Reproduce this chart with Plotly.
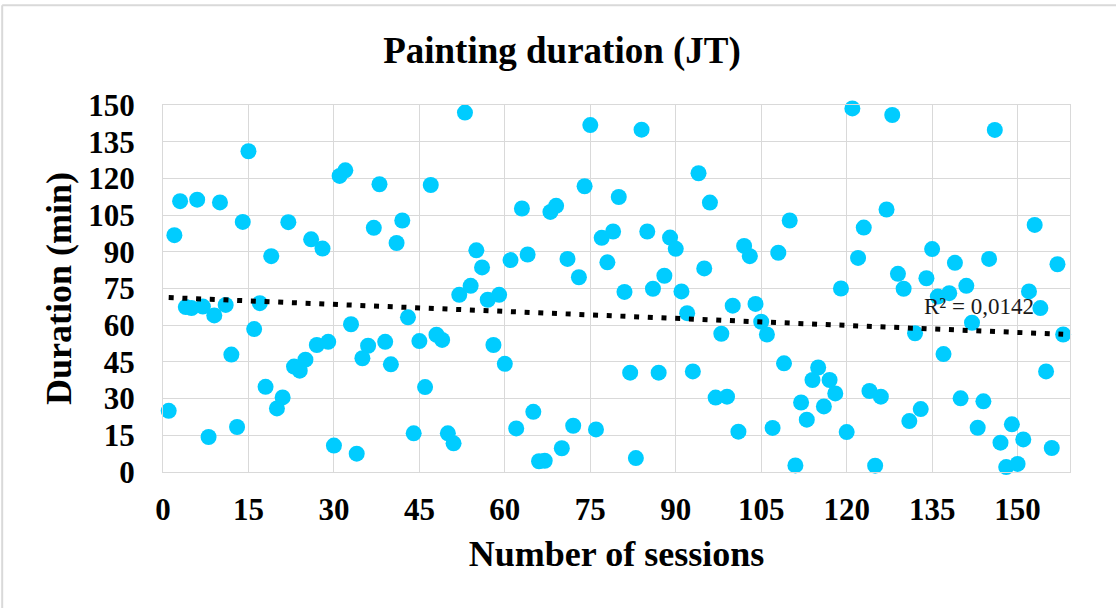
import numpy as np
import plotly.graph_objects as go

sessions = list(range(1, 159))
durations = [
    25.0, 96.8, 110.7, 67.4, 67.0, 111.3, 67.6, 14.3, 64.0, 110.2,
    68.3, 48.0, 18.4, 102.2, 131.1, 58.4, 69.0, 34.8, 88.2, 26.0,
    30.5, 102.1, 43.1, 41.4, 45.9, 95.1, 51.9, 91.3, 53.2, 10.8,
    121.0, 123.3, 60.4, 7.5, 46.5, 51.6, 99.8, 117.6, 53.2, 44.0,
    93.6, 102.8, 63.2, 15.8, 53.5, 34.7, 117.3, 56.1, 54.0, 15.8,
    11.7, 72.4, 146.9, 76.1, 90.6, 83.6, 70.4, 51.9, 72.4, 44.2,
    86.6, 17.8, 107.7, 88.9, 24.6, 4.4, 4.6, 106.3, 108.8, 9.7,
    87.1, 18.9, 79.6, 116.8, 141.8, 17.4, 95.7, 85.7, 98.3, 112.4,
    73.6, 40.6, 5.7, 139.9, 98.3, 74.9, 40.6, 80.2, 95.8, 91.2,
    73.8, 64.9, 41.1, 122.1, 83.2, 110.1, 30.4, 56.5, 30.8, 68.0,
    16.5, 92.4, 88.2, 68.7, 61.4, 56.2, 18.0, 89.6, 44.4, 102.8,
    2.7, 28.4, 21.4, 37.6, 42.7, 26.8, 37.6, 32.1, 75.0, 16.3,
    148.6, 87.5, 99.9, 33.1, 2.6, 30.8, 107.3, 145.9, 81.0, 74.9,
    20.8, 56.7, 25.7, 79.2, 91.1, 71.7, 48.2, 73.1, 85.5, 30.1,
    76.1, 61.0, 18.1, 28.9, 87.1, 139.8, 12.0, 2.0, 19.5, 3.3,
    13.3, 73.8, 101.0, 67.0, 41.1, 9.8, 84.9, 56.2,
]
x_ticks = [0, 15, 30, 45, 60, 75, 90, 105, 120, 135, 150]
y_ticks = [0, 15, 30, 45, 60, 75, 90, 105, 120, 135, 150]
r2_label = "R² = 0,0142"

x = np.array(sessions, dtype=float)
y = np.array(durations, dtype=float)
slope, intercept = np.polyfit(x, y, 1)
trend_x = [x.min(), x.max()]
trend_y = [intercept + slope * v for v in trend_x]

SERIF = "Liberation Serif, Times New Roman, serif"

fig = go.Figure()
fig.add_trace(go.Scatter(
    x=sessions, y=durations, mode="markers",
    marker=dict(color="#00CCFF", size=16, line=dict(width=0)),
    showlegend=False, cliponaxis=False,
))
fig.add_trace(go.Scatter(
    x=trend_x, y=trend_y, mode="lines",
    line=dict(color="black", width=5, dash="5px,8.7px"),
    showlegend=False,
))

label_x = 143.3
fig.add_annotation(
    x=label_x, y=intercept + slope * label_x + 10, xref="x", yref="y",
    text=r2_label, showarrow=False,
    font=dict(family=SERIF, size=23, color="#1a1a1a"),
    xanchor="center", yanchor="middle",
)

# outer chart border (light gray)
fig.add_shape(type="line", xref="paper", yref="paper",
              x0=-0.1773, x1=-0.1773, y0=-0.45, y1=1.2715,
              line=dict(color="#d9d9d9", width=2))
fig.add_shape(type="line", xref="paper", yref="paper",
              x0=-0.1773, x1=1.06, y0=1.2715, y1=1.2715,
              line=dict(color="#d9d9d9", width=2))

fig.update_layout(
    width=1116, height=608,
    margin=dict(l=163, r=46, t=105, b=136),
    paper_bgcolor="white", plot_bgcolor="white",
    title=dict(text="<b>Painting duration (JT)</b>",
               x=562 / 1116, xref="container", xanchor="center",
               y=1 - 50 / 608, yref="container", yanchor="middle",
               font=dict(family=SERIF, size=37, color="black")),
    font=dict(family=SERIF, color="black"),
)
fig.update_xaxes(
    range=[0, 159.2], tickvals=x_ticks, ticktext=[f"<b>{v}</b>" for v in x_ticks],
    showgrid=True, gridcolor="#d9d9d9", gridwidth=1.3,
    zeroline=False, showline=True, linecolor="#d9d9d9", linewidth=1.3,
    tickfont=dict(family=SERIF, size=31, color="black", weight="bold"),
    ticklabelstandoff=10,
    title=dict(text="<b>Number of sessions</b>", standoff=14,
               font=dict(family=SERIF, size=36, color="black")),
    mirror=True,
)
fig.update_yaxes(
    range=[0, 150], tickvals=y_ticks, ticktext=[f"<b>{v}</b>" for v in y_ticks],
    showgrid=True, gridcolor="#d9d9d9", gridwidth=1.3,
    zeroline=False, showline=True, linecolor="#d9d9d9", linewidth=1.3,
    tickfont=dict(family=SERIF, size=31, color="black", weight="bold"),
    ticklabelstandoff=21,
    title=dict(text="<b>Duration (min)</b>", standoff=5,
               font=dict(family=SERIF, size=36, color="black")),
    mirror=True,
)

fig.write_html("out.html")
